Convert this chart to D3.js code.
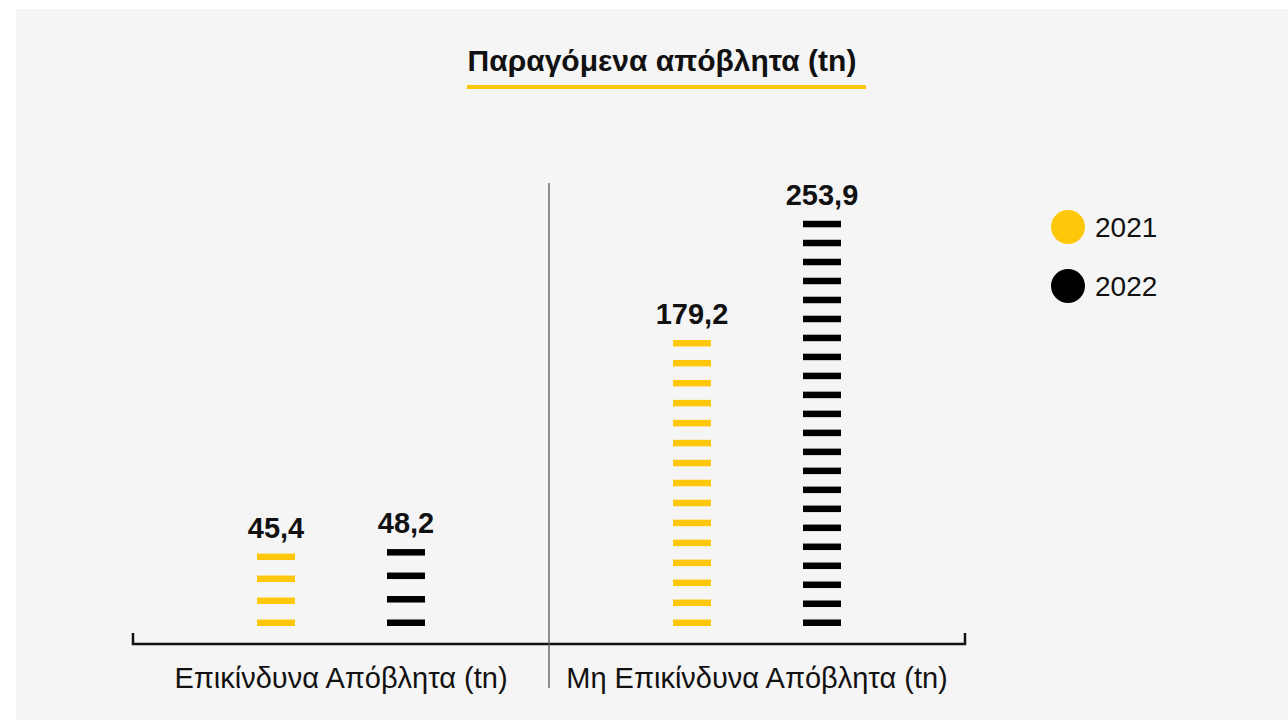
<!DOCTYPE html>
<html>
<head>
<meta charset="utf-8">
<script src="https://cdn.jsdelivr.net/npm/d3@7"></script>
<style>
  body { margin: 0; background: #fff; }
  svg { display: block; font-family: "Liberation Sans", Arial, sans-serif; }
</style>
</head>
<body>
<svg id="chart" width="1288" height="720"></svg>
<script>
// data
var categories = ["Επικίνδυνα Απόβλητα (tn)", "Μη Επικίνδυνα Απόβλητα (tn)"];
var years = ["2021", "2022"];
var values2021 = [45.4, 179.2];
var values2022 = [48.2, 253.9];
var valueLabels2021 = ["45,4", "179,2"];
var valueLabels2022 = ["48,2", "253,9"];
var colors = ["#ffc709", "#000000"];
var title = "Παραγόμενα απόβλητα (tn)";

var svg = d3.select("#chart");

// grey panel
svg.append("rect")
  .attr("x", 16).attr("y", 9)
  .attr("width", 1288 - 16).attr("height", 720 - 9)
  .attr("fill", "#f5f5f5");

// title + yellow underline
svg.append("text")
  .attr("x", 662).attr("y", 71)
  .attr("text-anchor", "middle")
  .attr("font-size", 30).attr("font-weight", "bold")
  .attr("fill", "#111")
  .text(title);
svg.append("rect")
  .attr("x", 467).attr("y", 85)
  .attr("width", 399).attr("height", 4)
  .attr("fill", colors[0]);

//scales
var x0 = d3.scaleBand().domain(categories).range([133, 965]);
var x1 = d3.scalePoint().domain(years)
  .range([x0.bandwidth() / 2 - 65, x0.bandwidth() / 2 + 65]);
var y = d3.scaleLinear().domain([0, 250]).range([626, 227]);

var series = [
  {year: years[0], values: values2021, labels: valueLabels2021, color: colors[0]},
  {year: years[1], values: values2022, labels: valueLabels2022, color: colors[1]}
];

var dashW = 38, dashH = 6.5, pitch = 18.5;

series.forEach(function(s) {
  s.values.forEach(function(v, i) {
    var cx = x0(categories[i]) + x1(s.year);
    var top = y(v), bottom = y(0);
    var h = bottom - top;
    var n = Math.max(2, Math.round(h / pitch));
    var step = (h - dashH) / (n - 1);
    var g = svg.append("g");
    g.selectAll("rect")
      .data(d3.range(n))
      .enter()
      .append("rect")
      .attr("x", cx - dashW / 2)
      .attr("y", function(d) { return top + d * step; })
      .attr("width", dashW)
      .attr("height", dashH)
      .attr("fill", s.color);
    //value on top
    svg.append("text")
      .attr("x", cx).attr("y", top - 16)
      .attr("text-anchor", "middle")
      .attr("font-size", 29).attr("font-weight", "bold")
      .attr("fill", "#111")
      .text(s.labels[i]);
  });
});

// bracket axis
var axisY = 644;
svg.append("path")
  .attr("d", "M" + x0.range()[0] + "," + 633 + "V" + axisY + "H" + x0.range()[1] + "V" + 633)
  .attr("fill", "none")
  .attr("stroke", "#111")
  .attr("stroke-width", 2.5);

// separator between the two groups
svg.append("line")
  .attr("x1", x0(categories[1])).attr("x2", x0(categories[1]))
  .attr("y1", 183).attr("y2", 688)
  .attr("stroke", "#555").attr("stroke-width", 1.3);

// category labels
svg.selectAll(".cat")
  .data(categories)
  .enter()
  .append("text")
  .attr("class", "cat")
  .attr("x", function(d) { return x0(d) + x0.bandwidth() / 2; })
  .attr("y", 688)
  .attr("text-anchor", "middle")
  .attr("font-size", 29)
  .attr("fill", "#111")
  .text(function(d) { return d; });

// legend
var legend = svg.selectAll(".legend")
  .data(years)
  .enter()
  .append("g")
  .attr("class", "legend")
  .attr("transform", function(d, i) { return "translate(1068," + (227 + i * 59) + ")"; });
legend.append("circle")
  .attr("r", 17)
  .attr("fill", function(d, i) { return colors[i]; });
legend.append("text")
  .attr("x", 27).attr("y", 10)
  .attr("font-size", 28)
  .attr("fill", "#111")
  .text(function(d) { return d; });
</script>
</body>
</html>
